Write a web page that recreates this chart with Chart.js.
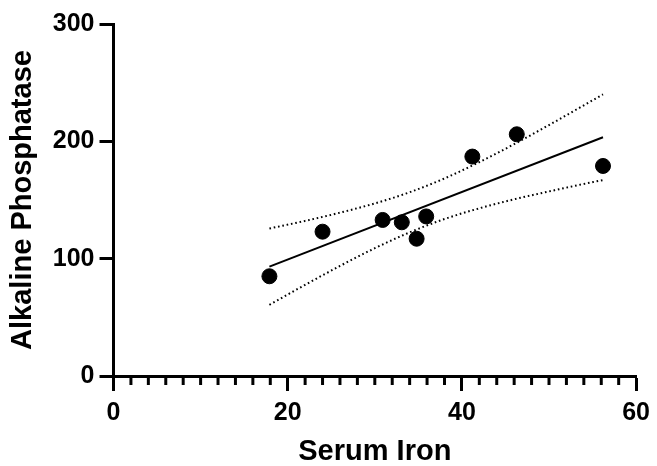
<!DOCTYPE html>
<html>
<head>
<meta charset="utf-8">
<script src="https://cdn.jsdelivr.net/npm/chart.js@4/dist/chart.umd.min.js"></script>
<style>
  html, body { margin: 0; padding: 0; background: #fff; }
  #wrap { width: 657px; height: 466px; }
</style>
</head>
<body>
<div id="wrap"><canvas id="c" width="657" height="466"></canvas></div>
<script>
// Data
const serumIron = [17.9, 24.0, 30.9, 33.1, 34.8, 35.9, 41.2, 46.3, 56.2];
const alkPhos   = [85, 123, 133, 131, 117, 136, 187, 206, 179];

// Regression line end points
const fitX = [17.9, 56.2];
const fitY = [93.2, 203.5];

// 95% confidence band
const bandX     = [17.9, 22, 26, 30, 34, 38, 42, 46, 50, 54, 56.2];
const bandUpper = [125.7, 132.2, 139.2, 147.1, 156.6, 168.4, 182.3, 197.6, 213.9, 230.7, 240.0];
const bandLower = [60.7, 77.7, 93.8, 108.9, 122.4, 133.8, 142.9, 150.6, 157.3, 163.7, 167.0];

// Axis ticks
const xMajorTicks = [0, 20, 40, 60];
const xMinorStep = 2;
const yTicks = [0, 100, 200, 300];

const pts = (xs, ys) => xs.map((x, i) => ({ x: x, y: ys[i] }));

const FONT = "'Liberation Sans', Arial, Helvetica, sans-serif";

const minorTicks = {
  id: 'minorTicks',
  afterDraw(chart) {
    const xs = chart.scales.x;
    const ctx = chart.ctx;
    const yAxis = chart.chartArea.bottom;
    ctx.save();
    ctx.strokeStyle = '#000';
    ctx.lineWidth = 3;
    for (let v = xs.min; v <= xs.max; v += xMinorStep) {
      if (xMajorTicks.includes(v)) continue;
      const px = xs.getPixelForValue(v);
      ctx.beginPath();
      ctx.moveTo(px, yAxis);
      ctx.lineTo(px, yAxis + 9);
      ctx.stroke();
    }
    ctx.restore();
  }
};

new Chart(document.getElementById('c'), {
  type: 'scatter',
  data: {
    datasets: [
      {
        label: 'Data',
        data: pts(serumIron, alkPhos),
        backgroundColor: '#000',
        borderColor: '#000',
        pointRadius: 7.5,
        pointHoverRadius: 7.5,
        order: 0
      },
      {
        label: 'Fit',
        data: pts(fitX, fitY),
        showLine: true,
        borderColor: '#000',
        borderWidth: 2,
        pointRadius: 0,
        fill: false,
        order: 1
      },
      {
        label: 'Upper',
        data: pts(bandX, bandUpper),
        showLine: true,
        borderColor: '#000',
        borderWidth: 2,
        borderDash: [1.6, 2.8],
        cubicInterpolationMode: 'monotone',
        pointRadius: 0,
        fill: false,
        order: 2
      },
      {
        label: 'Lower',
        data: pts(bandX, bandLower),
        showLine: true,
        borderColor: '#000',
        borderWidth: 2,
        borderDash: [1.6, 2.8],
        cubicInterpolationMode: 'monotone',
        pointRadius: 0,
        fill: false,
        order: 2
      }
    ]
  },
  options: {
    responsive: false,
    animation: false,
    layout: { padding: { left: 6, right: 14, top: 24, bottom: 0 } },
    plugins: { legend: { display: false }, tooltip: { enabled: false } },
    scales: {
      x: {
        type: 'linear',
        min: 0, max: 60,
        afterBuildTicks: (s) => { s.ticks = xMajorTicks.map(v => ({ value: v })); },
        border: { display: true, color: '#000', width: 3 },
        grid: { drawOnChartArea: false, drawTicks: true, tickLength: 15, tickWidth: 3, tickColor: '#000' },
        ticks: { color: '#000', font: { family: FONT, size: 25, weight: 'bold' }, padding: 7, maxRotation: 0 },
        title: { display: true, text: 'Serum Iron', color: '#000', font: { family: FONT, size: 29, weight: 'bold', lineHeight: 1.0 }, padding: { top: 2, bottom: 0 } }
      },
      y: {
        type: 'linear',
        min: 0, max: 300,
        afterBuildTicks: (s) => { s.ticks = yTicks.map(v => ({ value: v })); },
        border: { display: true, color: '#000', width: 3 },
        grid: { drawOnChartArea: false, drawTicks: true, tickLength: 14, tickWidth: 3, tickColor: '#000' },
        ticks: { color: '#000', font: { family: FONT, size: 25, weight: 'bold' }, padding: 5 },
        title: { display: true, text: 'Alkaline Phosphatase', color: '#000', font: { family: FONT, size: 29, weight: 'bold' }, padding: { top: 0, bottom: 7 } }
      }
    }
  },
  plugins: [minorTicks]
});
</script>
</body>
</html>
